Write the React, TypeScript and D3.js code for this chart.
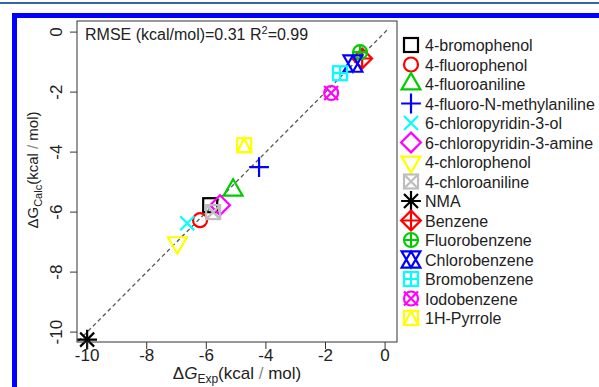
import React from 'react';
import * as d3 from 'd3';

// compounds, in legend order (R default palette and pch 0..14)
const compounds = [
  '4-bromophenol', '4-fluorophenol', '4-fluoroaniline', '4-fluoro-N-methylaniline',
  '6-chloropyridin-3-ol', '6-chloropyridin-3-amine', '4-chlorophenol', '4-chloroaniline',
  'NMA', 'Benzene', 'Fluorobenzene', 'Chlorobenzene', 'Bromobenzene', 'Iodobenzene', '1H-Pyrrole',
];
const expValues = [-5.87, -6.21, -5.10, -4.23, -6.64, -5.54, -6.97, -5.77, -10.0, -0.77, -0.84, -1.08, -1.51, -1.81, -4.73];
const calcValues = [-5.77, -6.27, -5.27, -4.50, -6.37, -5.77, -7.02, -6.00, -10.25, -0.88, -0.67, -1.05, -1.37, -2.03, -3.77];
const pchCodes = [0, 1, 2, 3, 4, 5, 6, 7, 8, 9, 10, 11, 12, 13, 14];
const palette = ['#000000', '#FF0000', '#00CD00', '#0000FF', '#00FFFF', '#FF00FF', '#FFFF00', '#BEBEBE'];
const ticks = [-10, -8, -6, -4, -2, 0];

const W = 599;
const H = 387;
const plot = {left: 77, right: 397, top: 21, bottom: 342};
const FONT = '"Liberation Sans", Arial, Helvetica, sans-serif';

const TRC0 = 1.55512030155621416073;
const TRC1 = TRC0 * Math.sqrt(3) / 2;
const TRC2 = TRC0 / 2;

// R-like point symbols
function Symbol({pch, x, y, col, u = 7}: {pch: number; x: number; y: number; col: string; u?: number}) {
  const s2 = Math.SQRT2 * u;
  const square = (h: number) => <rect x={x - h} y={y - h} width={2 * h} height={2 * h}/>;
  const circle = (r: number) => <circle cx={x} cy={y} r={r}/>;
  const plus = (h: number) => <path d={`M${x - h},${y}H${x + h}M${x},${y - h}V${y + h}`}/>;
  const cross = (h: number) => <path d={`M${x - h},${y - h}L${x + h},${y + h}M${x - h},${y + h}L${x + h},${y - h}`}/>;
  const diamond = (h: number) => <path d={`M${x},${y - h}L${x + h},${y}L${x},${y + h}L${x - h},${y}Z`}/>;
  const tri = (up: boolean) => {
    const r = TRC0 * u, yc = TRC2 * u, xc = TRC1 * u;
    return up
      ? <path d={`M${x},${y - r}L${x + xc},${y + yc}L${x - xc},${y + yc}Z`}/>
      : <path d={`M${x},${y + r}L${x + xc},${y - yc}L${x - xc},${y - yc}Z`}/>;
  };
  let body: React.ReactNode = null;
  switch (pch) {
    case 0: body = square(u); break;
    case 1: body = circle(u); break;
    case 2: body = tri(true); break;
    case 3: body = plus(s2); break;
    case 4: body = cross(u); break;
    case 5: body = diamond(s2); break;
    case 6: body = tri(false); break;
    case 7: body = <>{square(u)}{cross(u)}</>; break;
    case 8: body = <>{cross(u)}{plus(s2)}</>; break;
    case 9: body = <>{diamond(s2)}{plus(s2)}</>; break;
    case 10: body = <>{circle(u)}{plus(u)}</>; break;
    case 11: {
      const yc = 0.5 * (TRC2 * u + TRC0 * u), xc = TRC1 * u;
      body = <path d={`M${x},${y - yc}L${x + xc},${y + yc}L${x - xc},${y + yc}Z` +
        `M${x},${y + yc}L${x + xc},${y - yc}L${x - xc},${y - yc}Z`}/>;
      break;
    }
    case 12: body = <>{square(u)}{plus(u)}</>; break;
    case 13: body = <>{circle(u)}{cross(u)}</>; break;
    case 14: body = <>{square(u)}<path d={`M${x},${y - u}L${x + u},${y + u}L${x - u},${y + u}Z`}/></>; break;
  }
  return <g stroke={col} fill="none" strokeWidth={2.2}>{body}</g>;
}

export default function App() {
  const x = d3.scaleLinear().domain([-10.34, 0.4]).range([plot.left, plot.right]);
  const y = d3.scaleLinear().domain([-10.33, 0.37]).range([plot.bottom, plot.top]);
  const cx = (plot.left + plot.right) / 2;

  const legendX = 411;
  const legendY0 = 45;
  const legendStep = 19.5;

  return (
    <svg width={W} height={H} style={{position: 'absolute', left: 0, top: 0, background: '#fff'}}
         fontFamily={FONT}>
      {/* page frame */}
      <rect x={0} y={2} width={W} height={2} fill="#3465a8"/>
      <path d={`M14.5,${H}V15.5H${W}`} fill="none" stroke="#0000FF" strokeWidth={5}/>

      {/* identity line */}
      <line x1={x(-10.3)} y1={y(-10.3)} x2={x(0.1)} y2={y(0.1)}
            stroke="#555" strokeWidth={1.3} strokeDasharray="4,3"/>

      {/* points */}
      {compounds.map((c, i) => (
        <Symbol key={c} pch={pchCodes[i]} x={x(expValues[i])} y={y(calcValues[i])}
                col={palette[i % palette.length]}/>
      ))}

      {/* box */}
      <rect x={plot.left} y={plot.top} width={plot.right - plot.left} height={plot.bottom - plot.top}
            fill="none" stroke="#333" strokeWidth={1}/>

      {/* x axis */}
      {ticks.map(t => (
        <g key={'x' + t}>
          <line x1={x(t)} x2={x(t)} y1={plot.bottom} y2={plot.bottom + 7} stroke="#333"/>
          <text x={x(t)} y={361} textAnchor="middle" fontSize={17} fill="#222">{t}</text>
        </g>
      ))}
      {/* y axis */}
      {ticks.map(t => (
        <g key={'y' + t}>
          <line x1={plot.left - 7} x2={plot.left} y1={y(t)} y2={y(t)} stroke="#333"/>
          <text transform={`translate(62,${y(t)}) rotate(-90)`} textAnchor="middle" fontSize={17}
                fill="#222">{t}</text>
        </g>
      ))}

      {/* axis titles */}
      <text x={cx} y={379} textAnchor="middle" fontSize={17} fill="#222">
        <tspan>Δ</tspan><tspan fontStyle="italic">G</tspan>
        <tspan fontSize={12} dy={4}>Exp</tspan>
        <tspan dy={-4}>(kcal</tspan><tspan fill="#888"> / </tspan><tspan>mol)</tspan>
      </text>
      <text transform={`translate(38,170) rotate(-90)`} textAnchor="middle" fontSize={15} fill="#222">
        <tspan>ΔG</tspan>
        <tspan fontSize={11} dy={4}>Calc</tspan>
        <tspan dy={-4}>(kcal</tspan><tspan fill="#888"> / </tspan><tspan>mol)</tspan>
      </text>

      {/* stats */}
      <text x={85} y={40} fontSize={16} fill="#222">
        RMSE (kcal/mol)=0.31 R<tspan fontSize={11} dy={-6}>2</tspan><tspan dy={6}>=0.99</tspan>
      </text>

      {/* legend */}
      {compounds.map((c, i) => {
        const ly = legendY0 + i * legendStep;
        return (
          <g key={'lg' + c}>
            <Symbol pch={pchCodes[i]} x={legendX} y={ly} col={palette[i % palette.length]}/>
            <text x={425} y={ly + 6} fontSize={16} fill="#222">{c}</text>
          </g>
        );
      })}
    </svg>
  );
}
